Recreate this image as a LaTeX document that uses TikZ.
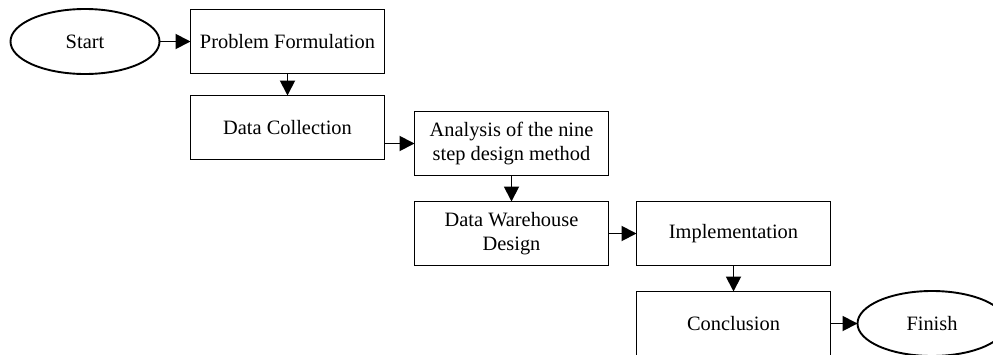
\documentclass[tikz,border=0pt]{standalone}
\usepackage{fontspec}
\setmainfont{Liberation Serif}
\usetikzlibrary{shapes,arrows.meta,positioning}

\begin{document}
\begin{tikzpicture}[x=1pt, y=1pt]

% Define styles
\tikzstyle{terminal} = [ellipse, minimum width=149pt, minimum height=65pt, outer sep=0pt, text centered, draw=black, line width=1.9pt, font=\fontsize{20.4}{24.5}\selectfont]
\tikzstyle{process} = [rectangle, minimum width=194pt, minimum height=64pt, outer sep=0pt, text centered, align=center, draw=black, line width=1.9pt, font=\fontsize{20.4}{24.5}\selectfont]
\tikzstyle{arrow} = [line width=1.9pt, -{Triangle[length=15pt, width=15pt]}]

\useasboundingbox (0,0) rectangle (993,-354);

% Top row
\node (start) [terminal] at (85,-41.5) {Start};
\node (problem) [process, right=31pt of start] {Problem Formulation};
\node (collect) [process, below=22pt of problem] {Data Collection};

% Middle steps
\node (analysis) [process, right=30pt of collect, yshift=-16pt] {Analysis of the nine\\step design method};
\node (warehouse) [process, below=26pt of analysis] {Data Warehouse\\Design};
\node (implement) [process, right=28pt of warehouse] {Implementation};

% Last row
\node (conclusion) [process, below=26pt of implement] {Conclusion};
\node (finish) [terminal, right=27pt of conclusion] {Finish};

% Connections
\draw [arrow] (start) -- (problem);
\draw [arrow] (problem) -- (collect);
\draw [arrow] (collect.east |- analysis) -- (analysis);
\draw [arrow] (analysis) -- (warehouse);
\draw [arrow] (warehouse) -- (implement);
\draw [arrow] (implement) -- (conclusion);
\draw [arrow] (conclusion) -- (finish);

\end{tikzpicture}
\end{document}
